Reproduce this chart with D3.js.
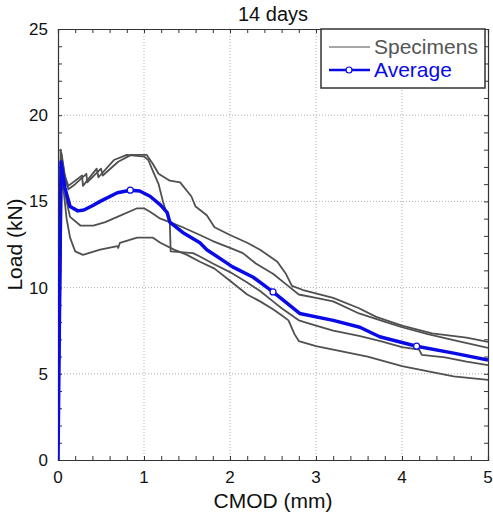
<!DOCTYPE html>
<html>
<head>
<meta charset="utf-8">
<script src="https://cdnjs.cloudflare.com/ajax/libs/d3/7.8.5/d3.min.js"></script>
<style>
  body { margin: 0; background: #fff; }
  text { font-family: "Liberation Sans", Arial, sans-serif; }
</style>
</head>
<body>
<div id="chart"></div>
<script>
// CMOD (mm), Load (kN) pairs
var specimen1 = [[0,0],[0.03,18.0],[0.08,16.4],[0.12,15.7],[0.2,16.0],[0.33,16.6],[0.34,16.1],
  [0.5,16.9],[0.52,16.5],[0.7,17.3],[0.85,17.7],[1.03,17.7],[1.1,17.2],[1.17,16.6],
  [1.3,16.2],[1.42,16.1],[1.55,15.3],[1.6,14.7],[1.73,14.2],[1.82,13.5],[2.0,13.05],[2.2,12.6],[2.35,12.2],
  [2.55,11.5],[2.65,10.8],[2.72,10.1],[2.85,9.86],[3.2,9.4],[3.5,8.8],[3.7,8.3],[4.0,7.8],[4.35,7.35],
  [4.75,7.1],[5.0,6.85]];
var specimen2 = [[0,0],[0.04,17.8],[0.08,16.5],[0.12,15.9],[0.28,16.5],[0.29,15.9],[0.45,16.9],[0.47,16.4],
  [0.65,17.4],[0.8,17.7],[1.0,17.6],[1.05,17.4],[1.1,16.8],[1.17,16.0],[1.22,15.0],[1.27,14.2],
  [1.3,13.8],[1.31,12.1],[1.57,12.0],[1.65,11.8],[1.8,11.4],[2.0,10.9],[2.2,10.3],[2.35,9.8],
  [2.5,9.2],[2.6,8.8],[2.8,8.1],[3.0,7.8],[3.2,7.5],[3.5,7.2],[3.75,6.9],[4.0,6.55],[4.2,6.4],[4.23,6.1],
  [4.5,5.95],[4.75,5.7],[5.0,5.5]];
var specimen3 = [[0,0],[0.04,17.2],[0.1,15.0],[0.14,14.1],[0.26,13.6],[0.41,13.6],[0.55,13.8],[0.69,14.1],
  [0.92,14.6],[1.0,14.6],[1.07,14.4],[1.19,14.0],[1.3,13.8],[1.45,13.5],[1.65,13.05],[1.8,12.7],[2.0,12.3],
  [2.15,12.0],[2.3,11.4],[2.5,10.8],[2.65,10.2],[2.8,9.6],[3.0,9.4],[3.2,9.2],[3.5,8.5],[3.75,8.1],
  [4.0,7.7],[4.3,7.3],[4.6,6.95],[5.0,6.5]];
var specimen4 = [[0,0],[0.045,16.6],[0.1,14.0],[0.14,12.9],[0.2,12.1],[0.29,11.9],[0.49,12.2],[0.69,12.4],
  [0.7,12.3],[0.72,12.6],[0.92,12.9],[1.1,12.9],[1.19,12.6],[1.35,12.2],[1.5,11.9],[1.65,11.5],[1.82,11.1],
  [2.0,10.4],[2.2,9.6],[2.35,9.2],[2.5,8.75],[2.6,8.4],[2.68,8.1],[2.75,7.3],[2.8,6.9],[3.0,6.6],[3.2,6.4],
  [3.6,6.0],[4.0,5.45],[4.35,5.1],[4.6,4.85],[5.0,4.65]];
var average = [[0,0],[0.035,17.3],[0.08,15.8],[0.14,14.7],[0.23,14.45],[0.3,14.5],[0.4,14.75],[0.49,15.0],
  [0.69,15.5],[0.84,15.65],[0.95,15.6],[1.07,15.3],[1.19,14.8],[1.27,14.35],[1.3,13.8],[1.45,13.2],
  [1.65,12.6],[1.73,12.2],[2.03,11.2],[2.27,10.6],[2.5,9.75],[2.81,8.5],[3.2,8.1],[3.51,7.7],[3.74,7.15],
  [4.17,6.6],[4.6,6.2],[5.0,5.8]];
var averageMarkers = [[0.84,15.65],[2.5,9.75],[4.17,6.6]];
var xTicks = [0, 1, 2, 3, 4, 5];
var yTicks = [0, 5, 10, 15, 20, 25];

var specimens = [specimen1, specimen2, specimen3, specimen4];

var W = 493, H = 514;
var margin = {left: 58, right: 5, top: 29, bottom: 54};

var svg = d3.select("#chart").append("svg")
    .attr("width", W).attr("height", H);

var x = d3.scaleLinear().domain([0, 5]).range([margin.left, W - margin.right]);
var y = d3.scaleLinear().domain([0, 25]).range([H - margin.bottom, margin.top]);

// grid
svg.append("g").selectAll("line").data(xTicks.slice(1, -1)).enter().append("line")
    .attr("x1", d => x(d)).attr("x2", d => x(d))
    .attr("y1", y(0)).attr("y2", y(25))
    .attr("stroke", "#b0b0b0").attr("stroke-dasharray", "1,2");
svg.append("g").selectAll("line").data(yTicks.slice(1, -1)).enter().append("line")
    .attr("y1", d => y(d)).attr("y2", d => y(d))
    .attr("x1", x(0)).attr("x2", x(5))
    .attr("stroke", "#b0b0b0").attr("stroke-dasharray", "1,2");

// axes, ticks inside on all four sides
var axCol = "#333";
var axBottom = svg.append("g").attr("transform", "translate(0," + y(0) + ")")
    .call(d3.axisBottom(x).tickValues(d3.range(0, 5.01, 0.2)).tickSize(-4).tickFormat(""));
var axTop = svg.append("g").attr("transform", "translate(0," + y(25) + ")")
    .call(d3.axisTop(x).tickValues(d3.range(0, 5.01, 0.2)).tickSize(-4).tickFormat(""));
var axLeft = svg.append("g").attr("transform", "translate(" + x(0) + ",0)")
    .call(d3.axisLeft(y).tickValues(d3.range(0, 25.01, 1)).tickSize(-4).tickFormat(""));
var axRight = svg.append("g").attr("transform", "translate(" + x(5) + ",0)")
    .call(d3.axisRight(y).tickValues(d3.range(0, 25.01, 1)).tickSize(-4).tickFormat(""));
[axBottom, axTop, axLeft, axRight].forEach(function(g) {
  g.selectAll("path").attr("stroke", axCol).attr("stroke-width", 1.2);
  g.selectAll("line").attr("stroke", axCol);
});

// tick labels
svg.append("g").selectAll("text").data(xTicks).enter().append("text")
    .attr("x", d => x(d)).attr("y", y(0) + 23)
    .attr("text-anchor", "middle").attr("font-size", 17).attr("fill", "#111")
    .text(d => d);
svg.append("g").selectAll("text").data(yTicks).enter().append("text")
    .attr("x", x(0) - 10).attr("y", d => y(d) + 6)
    .attr("text-anchor", "end").attr("font-size", 17).attr("fill", "#111")
    .text(d => d);

// titles
svg.append("text").attr("x", (x(0) + x(5)) / 2).attr("y", 21)
    .attr("text-anchor", "middle").attr("font-size", 20).attr("fill", "#111").text("14 days");
svg.append("text").attr("x", (x(0) + x(5)) / 2).attr("y", 508)
    .attr("text-anchor", "middle").attr("font-size", 21).attr("fill", "#111").text("CMOD (mm)");
svg.append("text").attr("transform", "translate(22," + ((y(0) + y(25)) / 2) + ") rotate(-90)")
    .attr("text-anchor", "middle").attr("font-size", 21).attr("fill", "#111").text("Load (kN)");

// curves
svg.append("clipPath").attr("id", "clip").append("rect")
    .attr("x", x(0)).attr("y", y(25)).attr("width", x(5) - x(0)).attr("height", y(0) - y(25));
var line = d3.line().x(d => x(d[0])).y(d => y(d[1]));
var plot = svg.append("g").attr("clip-path", "url(#clip)");
plot.selectAll("path.spec").data(specimens).enter().append("path")
    .attr("class", "spec").attr("d", line)
    .attr("fill", "none").attr("stroke", "#505050").attr("stroke-width", 1.8)
    .attr("stroke-linejoin", "round");
plot.append("path").datum(average).attr("d", line)
    .attr("fill", "none").attr("stroke", "#0a0ae6").attr("stroke-width", 3.5)
    .attr("stroke-linejoin", "round");
plot.selectAll("circle").data(averageMarkers).enter().append("circle")
    .attr("cx", d => x(d[0])).attr("cy", d => y(d[1])).attr("r", 3)
    .attr("fill", "#fff").attr("stroke", "#0a0ae6").attr("stroke-width", 1.2);

// legend
var lg = svg.append("g").attr("transform", "translate(321," + y(25) + ")");
lg.append("rect").attr("width", 164).attr("height", 59)
    .attr("fill", "#fff").attr("stroke", "#333").attr("stroke-width", 1.5);
lg.append("line").attr("x1", 8).attr("x2", 49).attr("y1", 18).attr("y2", 18)
    .attr("stroke", "#888").attr("stroke-width", 1.3);
lg.append("text").attr("x", 53).attr("y", 25).attr("font-size", 21).attr("fill", "#555").text("Specimens");
lg.append("line").attr("x1", 8).attr("x2", 49).attr("y1", 41).attr("y2", 41)
    .attr("stroke", "#0a0ae6").attr("stroke-width", 2.5);
lg.append("circle").attr("cx", 28).attr("cy", 41).attr("r", 3)
    .attr("fill", "#fff").attr("stroke", "#0a0ae6").attr("stroke-width", 1.2);
lg.append("text").attr("x", 53).attr("y", 48).attr("font-size", 21).attr("fill", "#0a0ae6").text("Average");
</script>
</body>
</html>
